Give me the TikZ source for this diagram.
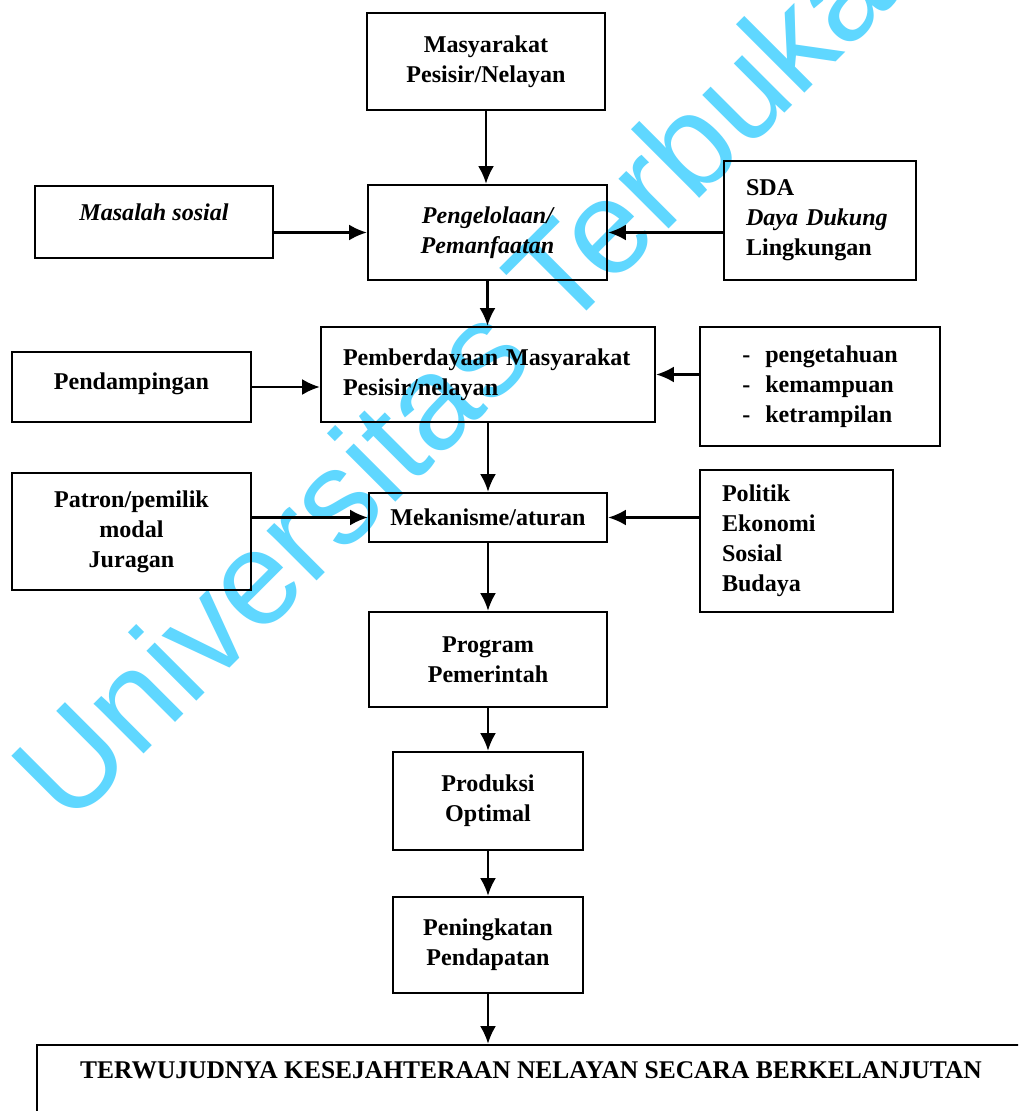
\documentclass[tikz,border=0pt]{standalone}
\usepackage{fontspec}
\setmainfont{Liberation Serif}
\newfontfamily\wmfont{Liberation Sans}
\usepackage{tikz}
\usetikzlibrary{arrows.meta}

\definecolor{wmcyan}{RGB}{95,215,255}

\tikzset{
  kotak/.style={draw, line width=1.4pt, align=center, inner sep=0pt,
    font=\bfseries\fontsize{13.7}{17.1}\selectfont},
  panah/.style={-{Latex[length=10pt,width=9pt]}, line width=1.3pt},
}

\begin{document}
\begin{tikzpicture}[x=0.02cm, y=-0.02cm]
        \useasboundingbox (0,0) rectangle (1018,1111);
        \fill[white] (0,0) rectangle (1018,1111);
        \clip (0,0) rectangle (1018,1111);
        % watermark, behind the chart
        \node[rotate=45, anchor=base, text=wmcyan, inner sep=0pt,
          font=\wmfont\fontsize{76}{76}\selectfont] (wm) at (484,414) {Universitas Terbuka};
        % main column
        \node[kotak, minimum width=4.76cm, minimum height=1.94cm] (masy) at (486,61.5) {Masyarakat\\Pesisir/Nelayan};
        \node[kotak, minimum width=4.78cm, minimum height=1.9cm] (kelola) at (487.5,232.5) {\itshape Pengelolaan/\\\itshape Pemanfaatan};
        \node[kotak, minimum width=6.68cm, minimum height=1.9cm, align=left, text width=5.8cm] (berdaya) at (488,374.5) {Pemberdayaan Masyarakat\\Pesisir/nelayan};
        \node[kotak, minimum width=4.76cm, minimum height=0.98cm] (mekanisme) at (488,517.5) {Mekanisme/aturan};
        \node[kotak, minimum width=4.76cm, minimum height=1.9cm] (program) at (488,659.5) {Program\\Pemerintah};
        \node[kotak, minimum width=3.8cm, minimum height=1.96cm] (produksi) at (488,801) {Produksi\\Optimal};
        \node[kotak, minimum width=3.8cm, minimum height=1.92cm] (naik) at (488,945) {Peningkatan\\Pendapatan};
        \node[kotak, minimum width=20.06cm, text height=0.66cm, text depth=1.24cm,
          font=\bfseries\fontsize{14.5}{17.1}\selectfont] (hasil) at (538.5,1092.5) {TERWUJUDNYA KESEJAHTERAAN NELAYAN SECARA BERKELANJUTAN\hspace{0.3cm}};
        % left side
        \node[kotak, minimum width=4.76cm, text height=0.7cm, text depth=0.74cm] (masalah) at (154,222) {\itshape Masalah sosial};
        \node[kotak, minimum width=4.78cm, text height=0.74cm, text depth=0.66cm] (dampingan) at (131.5,387) {Pendampingan};
        \node[kotak, minimum width=4.78cm, minimum height=2.34cm] (patron) at (131.5,531.5) {Patron/pemilik\\modal\\Juragan};
        % right side
        \node[kotak, minimum width=3.84cm, minimum height=2.38cm, align=left, text width=2.96cm] (sda) at (820,220.5) {SDA\\\textit{Daya Dukung}\\Lingkungan};
        \node[kotak, minimum width=4.8cm, minimum height=2.38cm, align=left] (tahu) at (820,386.5) {-\hspace{0.3cm}pengetahuan\\-\hspace{0.3cm}kemampuan\\-\hspace{0.3cm}ketrampilan};
        \node[kotak, minimum width=3.86cm, minimum height=2.84cm, align=left, text width=2.98cm] (politik) at (796.5,541) {Politik\\Ekonomi\\Sosial\\Budaya};

        % connectors
        \draw[panah] (masy) -- (masy |- kelola.north);
        \draw[panah] (masalah.east |- kelola.west) -- (kelola.west);
        \draw[panah] (sda.west |- kelola.east) -- (kelola.east);
        \draw[panah] (kelola.south) -- (kelola.south |- berdaya.north);
        \draw[panah] (dampingan.east) -- (dampingan.east -| berdaya.west);
        \draw[panah] (tahu.west |- berdaya.east) -- (berdaya.east);
        \draw[panah] (berdaya.south) -- (berdaya.south |- mekanisme.north);
        \draw[panah] (patron.east |- mekanisme.west) -- (mekanisme.west);
        \draw[panah] (politik.west |- mekanisme.east) -- (mekanisme.east);
        \draw[panah] (mekanisme.south) -- (program.north);
        \draw[panah] (program.south) -- (produksi.north);
        \draw[panah] (produksi.south) -- (naik.north);
        \draw[panah] (naik.south) -- (naik.south |- hasil.north);
      \end{tikzpicture}
\end{document}
